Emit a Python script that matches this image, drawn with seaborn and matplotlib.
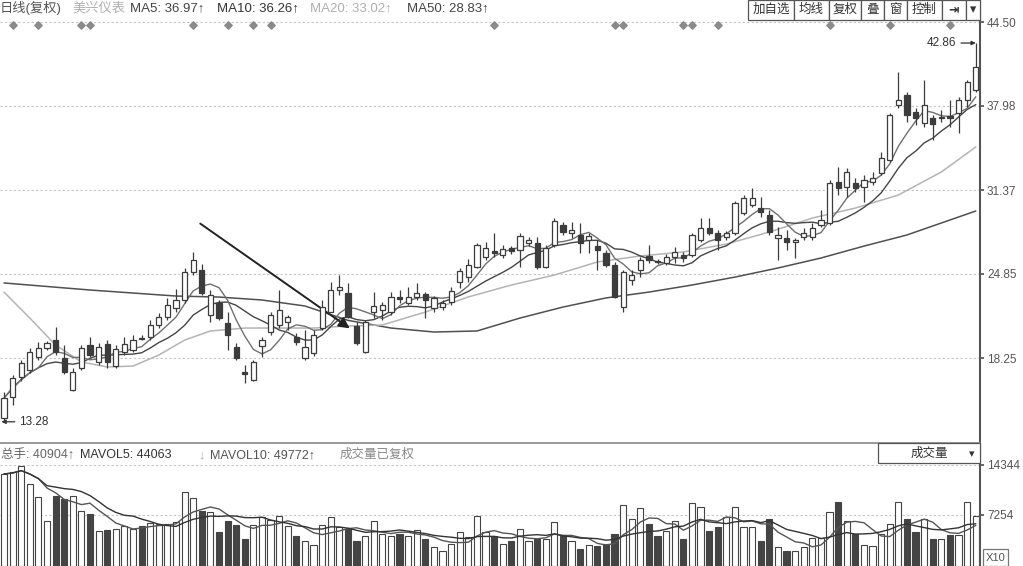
import numpy as np
import pandas as pd
import matplotlib
matplotlib.use("Agg")
import matplotlib.pyplot as plt
from matplotlib.patches import Rectangle
import seaborn as sns

sns.set_theme(style="white")
plt.rcParams['font.family'] = ['Liberation Sans', 'Noto Sans CJK SC', 'DejaVu Sans']

# daily candles
opens = [13.57, 15.21, 16.77, 17.32, 18.34, 19.04, 19.66, 18.26, 15.76, 17.48,
         19.27, 17.95, 19.35, 17.63, 18.73, 18.88, 19.86, 19.90, 20.84, 21.46,
         22.16, 22.79, 24.97, 25.13, 21.62, 22.55, 20.99, 19.12, 17.17, 16.54,
         19.20, 20.29, 20.84, 21.07, 19.90, 18.26, 18.65, 20.60, 21.85, 23.57,
         23.34, 20.76, 18.73, 21.85, 22.00, 21.85, 23.03, 22.55, 23.03, 23.26,
         22.16, 22.24, 22.63, 24.20, 24.58, 25.37, 26.15, 26.62, 26.30, 26.85,
         26.69, 27.24, 27.24, 25.37, 27.08, 28.65, 28.02, 27.87, 27.48, 27.00,
         26.46, 25.52, 22.24, 24.35, 25.13, 26.23, 25.83, 25.68, 26.15, 26.30,
         26.30, 27.48, 28.41, 28.02, 27.71, 28.02, 29.58, 30.21, 29.97, 29.43,
         27.63, 27.63, 27.32, 27.71, 27.71, 28.65, 28.80, 32.00, 31.61, 31.93,
         31.61, 32.00, 32.71, 33.72, 38.02, 38.80, 37.47, 36.61, 37.00, 37.00,
         37.16, 37.39, 38.41, 39.19]
highs = [15.60, 16.93, 18.10, 19.04, 19.50, 19.60, 20.70, 19.30, 17.50, 19.30,
         19.90, 19.40, 19.66, 19.30, 19.90, 20.05, 20.05, 21.20, 21.80, 22.95,
         23.65, 25.30, 26.54, 25.60, 23.60, 22.80, 21.85, 19.40, 17.70, 18.10,
         19.90, 21.85, 23.57, 21.60, 20.20, 20.45, 20.45, 22.80, 24.20, 24.74,
         24.10, 21.07, 21.20, 23.40, 22.63, 23.40, 23.57, 23.80, 24.10, 23.40,
         23.10, 22.80, 23.80, 25.29, 25.99, 27.24, 27.32, 28.02, 27.08, 27.00,
         28.02, 27.70, 27.71, 27.08, 29.19, 28.88, 28.88, 28.80, 28.02, 27.50,
         26.69, 25.76, 25.13, 25.13, 26.15, 27.08, 26.00, 26.38, 26.93, 26.54,
         28.02, 29.19, 29.19, 28.26, 28.18, 30.52, 30.99, 31.54, 30.83, 29.82,
         28.49, 28.26, 27.63, 28.41, 28.80, 29.82, 32.16, 33.18, 33.10, 32.32,
         32.55, 32.79, 34.35, 37.39, 40.60, 39.03, 37.78, 39.97, 37.24, 37.63,
         38.41, 38.64, 39.97, 42.86]
lows = [13.28, 14.59, 16.50, 17.10, 18.10, 18.90, 18.50, 17.00, 15.70, 17.30,
        18.30, 17.70, 17.48, 17.50, 18.50, 18.73, 19.66, 19.66, 20.60, 21.20,
        21.85, 22.55, 24.74, 23.20, 21.10, 21.20, 18.88, 18.10, 16.30, 16.50,
        18.33, 20.05, 20.60, 20.45, 19.27, 18.10, 18.40, 20.45, 21.85, 23.18,
        21.38, 19.27, 18.65, 21.40, 21.20, 21.62, 22.55, 22.40, 22.80, 21.38,
        21.85, 22.00, 22.40, 23.72, 24.20, 25.29, 25.91, 26.15, 26.07, 26.38,
        25.37, 27.00, 25.20, 25.29, 26.93, 27.87, 27.63, 26.46, 26.46, 25.13,
        25.37, 22.95, 21.85, 23.96, 24.58, 25.68, 25.60, 25.52, 25.68, 25.76,
        26.15, 27.32, 27.87, 26.69, 27.48, 27.87, 29.43, 30.05, 29.27, 27.87,
        25.91, 26.69, 26.07, 27.48, 27.48, 28.49, 28.65, 30.99, 30.83, 31.22,
        30.44, 31.77, 32.55, 33.57, 37.78, 36.69, 36.46, 36.30, 35.28, 36.69,
        36.30, 35.83, 37.86, 39.03]
closes = [15.13, 16.70, 17.87, 18.73, 19.04, 19.43, 18.73, 17.17, 17.17, 19.04,
          18.49, 19.12, 17.95, 18.96, 19.35, 19.66, 19.78, 20.84, 21.46, 22.40,
          22.79, 24.97, 25.90, 23.34, 23.18, 21.38, 20.05, 18.26, 17.00, 17.95,
          19.66, 21.62, 22.00, 21.46, 19.50, 19.12, 20.05, 22.24, 23.57, 23.80,
          21.46, 19.43, 21.07, 22.32, 22.40, 23.03, 22.87, 23.03, 23.34, 22.79,
          22.95, 22.55, 23.49, 25.05, 25.52, 27.08, 26.85, 26.46, 26.77, 26.62,
          27.79, 27.48, 25.37, 26.85, 28.96, 28.10, 28.26, 27.24, 27.79, 26.69,
          25.52, 23.03, 24.97, 24.74, 25.91, 25.91, 25.76, 26.15, 26.54, 26.07,
          27.87, 28.41, 28.02, 27.48, 28.02, 30.36, 30.75, 30.75, 29.66, 28.10,
          27.87, 27.32, 27.48, 28.02, 28.41, 29.04, 31.93, 31.54, 32.79, 31.54,
          32.16, 32.32, 33.88, 37.24, 38.41, 37.24, 37.00, 38.02, 36.53, 37.08,
          37.00, 38.41, 39.81, 40.99]
# volume in lots x10
volumes = [13050, 13330, 14180, 11630, 9780, 6380, 9930, 9500, 9930, 7800,
           7370, 4960, 5110, 5250, 5670, 5250, 5670, 6100, 5960, 5960,
           6240, 10490, 9640, 7800, 7660, 4820, 6380, 5810, 3830, 5810,
           6950, 6520, 7090, 5670, 4250, 3550, 2980, 5810, 6950, 5530,
           5250, 3550, 4250, 6380, 4540, 4250, 4540, 4250, 5110, 3830,
           2690, 2130, 3120, 4820, 4110, 7090, 4820, 4250, 3120, 3550,
           5250, 3550, 3830, 3830, 6240, 4250, 3550, 2410, 2980, 2840,
           3120, 4540, 8650, 6670, 8220, 5960, 4250, 4960, 6380, 3830,
           8930, 8370, 4960, 5530, 6950, 8370, 5530, 5530, 3550, 6670,
           2690, 2130, 2130, 2690, 3970, 3970, 7660, 9080, 6380, 4540,
           2980, 2840, 4540, 5960, 9080, 6670, 4820, 6670, 3830, 3830,
           4400, 4400, 9080, 7090]

ma20_days = [0, 3, 6, 9, 12, 15, 18, 21, 24, 28, 32, 36, 40, 44, 49, 54, 59,
             64, 69, 74, 79, 84, 89, 94, 99, 104, 109, 113]
ma20_vals = [23.41, 21.38, 19.27, 17.95, 17.56, 17.63, 18.49, 19.66, 20.37,
             20.60, 20.60, 20.60, 20.76, 20.84, 21.85, 23.03, 23.96, 24.74,
             25.76, 26.23, 26.54, 27.16, 28.10, 29.19, 29.97, 30.99, 32.79, 34.74]
ma50_days = [0, 10, 20, 25, 30, 35, 40, 45, 50, 55, 60, 65, 70, 75, 80, 85,
             90, 95, 100, 105, 110, 113]
ma50_vals = [24.12, 23.57, 23.10, 23.02, 22.79, 22.32, 21.20, 20.60, 20.29,
             20.37, 21.38, 22.24, 22.95, 23.41, 23.96, 24.58, 25.29, 26.07,
             27.00, 27.87, 29.04, 29.74]

signal_days = [1, 4, 9, 10, 22, 26, 29, 31, 57, 71, 72, 79, 80, 83, 96, 103, 110]

price_ticks = [44.50, 37.98, 31.37, 24.85, 18.25]
vol_ticks = [14344, 7254]
buttons = ["加自选", "均线", "复权", "叠", "窗", "控制", "⇥", "▾"]
button_edges = [748, 794, 829, 861, 884, 907, 942, 966, 980]

W, H = 1023, 566
DARK = '#3c3c3c'


def fx(x):
    return x / W


def fy(y):
    return 1 - y / H


df = pd.DataFrame({"day": np.arange(len(closes)), "open": opens, "high": highs,
                   "low": lows, "close": closes, "vol": volumes})
df["up"] = df["close"] >= df["open"]
df["ma5"] = df["close"].rolling(5, min_periods=1).mean()
df["ma10"] = df["close"].rolling(10, min_periods=1).mean()
df["mavol5"] = df["vol"].rolling(5, min_periods=1).mean()
df["mavol10"] = df["vol"].rolling(10, min_periods=1).mean()
df["bottom"] = df[["open", "close"]].min(axis=1)
df["body"] = (df["close"] - df["open"]).abs().clip(lower=0.08)

fig = plt.figure(figsize=(W / 100, H / 100), dpi=100)
ax = fig.add_axes([0, fy(442), fx(980), 442 / H])
axv = fig.add_axes([0, 0, fx(980), 123 / H])

xlim = (-0.465, 113.49)

# ---- price panel
for t in price_ticks:
    ax.axhline(t, color='#c4c4c4', lw=0.8, ls=(0, (2, 2)), zorder=1)

sns.lineplot(x=ma50_days, y=ma50_vals, ax=ax, color='#505050', lw=1.1, estimator=None, zorder=2)
sns.lineplot(x=ma20_days, y=ma20_vals, ax=ax, color='#b4b4b4', lw=1.1, estimator=None, zorder=2)
sns.lineplot(data=df, x="day", y="ma10", ax=ax, color='#454545', lw=1.0, estimator=None, zorder=2)
sns.lineplot(data=df, x="day", y="ma5", ax=ax, color='#707070', lw=1.0, estimator=None, zorder=2)

ax.vlines(df["day"], df["low"], df["high"], color=DARK, lw=0.9, zorder=3)
up = df[df["up"]]
dn = df[~df["up"]]
ax.bar(up["day"], up["body"], bottom=up["bottom"], width=0.6, facecolor='white',
       edgecolor=DARK, lw=0.9, zorder=4)
ax.bar(dn["day"], dn["body"], bottom=dn["bottom"], width=0.6, facecolor=DARK,
       edgecolor=DARK, lw=0.9, zorder=4)

ax.scatter(signal_days, [44.27] * len(signal_days), marker='D', s=14,
           color='#8a8a8a', zorder=5)

ax.annotate('', xy=(40.47, 20.45), xytext=(22.56, 28.88),
            arrowprops=dict(arrowstyle='-|>', lw=1.4, color='#222222', mutation_scale=16))
hi = df.loc[df["high"].idxmax()]
lo = df.loc[df["low"].idxmin()]
ax.annotate(f"{hi['high']:.2f}", xy=(hi["day"], hi["high"]), xytext=(-14, 0),
            textcoords='offset points', ha='right', va='center', fontsize=8.5, color='#333333',
            arrowprops=dict(arrowstyle='-|>', lw=0.9, color='#333333', mutation_scale=6, shrinkA=1, shrinkB=0))
ax.annotate(f"{lo['low']:.2f}", xy=(lo["day"] - 0.3, lo["low"]), xytext=(13, 0),
            textcoords='offset points', ha='left', va='center', fontsize=8.5, color='#333333',
            arrowprops=dict(arrowstyle='-|>', lw=0.9, color='#333333', mutation_scale=6, shrinkA=1, shrinkB=0))

ax.set_xlim(*xlim)
ax.set_ylim(11.70, 46.22)
ax.set_xticks([])
ax.yaxis.tick_right()
ax.set_yticks(price_ticks)
ax.set_yticklabels([f"{t:.2f}" for t in price_ticks])
ax.tick_params(axis='y', direction='out', length=3, color='#555555', labelsize=8.5,
               labelcolor='#555555', pad=2)
ax.set_xlabel('')
ax.set_ylabel('')
for s in ['left', 'top', 'bottom']:
    ax.spines[s].set_visible(False)
ax.spines['right'].set_color('#555555')
ax.spines['right'].set_linewidth(1.5)

# ---- volume panel
for t in vol_ticks:
    axv.axhline(t, color='#c4c4c4', lw=0.8, ls=(0, (2, 2)), zorder=1)
axv.bar(up["day"], up["vol"], width=0.72, facecolor='white', edgecolor='#444444', lw=0.8, zorder=2)
axv.bar(dn["day"], dn["vol"], width=0.72, facecolor='#444444', edgecolor='#444444', lw=0.8, zorder=2)
sns.lineplot(data=df, x="day", y="mavol5", ax=axv, color='#555555', lw=1.0, estimator=None, zorder=3)
sns.lineplot(data=df, x="day", y="mavol10", ax=axv, color='#333333', lw=1.0, estimator=None, zorder=3)
axv.set_xlim(*xlim)
axv.set_ylim(0, 17440)
axv.set_xticks([])
axv.yaxis.tick_right()
axv.set_yticks(vol_ticks)
axv.set_yticklabels([str(t) for t in vol_ticks])
axv.tick_params(axis='y', direction='out', length=3, color='#555555', labelsize=8.5,
                labelcolor='#555555', pad=2)
axv.set_xlabel('')
axv.set_ylabel('')
for s in ['left', 'bottom']:
    axv.spines[s].set_visible(False)
axv.spines['right'].set_color('#555555')
axv.spines['right'].set_linewidth(1.5)
axv.spines['top'].set_color('#888888')
axv.spines['top'].set_linewidth(1.2)

# ---- header texts
header = [(0, "日线(复权)", '#555555'), (72, "美兴仪表", '#b0b0b0'),
          (130, "MA5: 36.97↑", '#444444'), (217, "MA10: 36.26↑", '#333333'),
          (310, "MA20: 33.02↑", '#b0b0b0'), (407, "MA50: 28.83↑", '#444444')]
for x, s, c in header:
    fig.text(fx(x), fy(8), s, fontsize=9.5, color=c, ha='left', va='center')

vol_header = [(1, "总手: 40904↑", '#666666'), (80, "MAVOL5: 44063", '#333333'),
              (198, "↓", '#aaaaaa'), (210, "MAVOL10: 49772↑", '#555555'),
              (340, "成交量已复权", '#888888')]
for x, s, c in vol_header:
    fig.text(fx(x), fy(455), s, fontsize=9, color=c, ha='left', va='center')

# toolbar buttons
for i, label in enumerate(buttons):
    x0, x1 = button_edges[i], button_edges[i + 1]
    fig.add_artist(Rectangle((fx(x0), fy(20)), fx(x1 - x0), 20 / H, transform=fig.transFigure,
                             facecolor='white', edgecolor='#555555', lw=0.9, zorder=10))
    fam = ['DejaVu Sans'] if label in ("⇥", "▾") else None
    fig.text(fx((x0 + x1) / 2), fy(10), label, fontsize=9, color='#333333', ha='center',
             va='center', zorder=11, family=fam, weight='bold' if label == "⇥" else 'normal')

# indicator selector and scale box
fig.add_artist(Rectangle((fx(878), fy(463)), fx(102), 20 / H, transform=fig.transFigure,
                         facecolor='white', edgecolor='#555555', lw=0.9, zorder=10))
fig.text(fx(929), fy(454), "成交量", fontsize=9, color='#333333', ha='center', va='center', zorder=11)
fig.text(fx(972), fy(454), "▾", fontsize=8, color='#333333', ha='center', va='center',
         zorder=11, family=['DejaVu Sans'])
fig.add_artist(Rectangle((fx(983), fy(566)), fx(25), 17 / H, transform=fig.transFigure,
                         facecolor='white', edgecolor='#777777', lw=0.9, zorder=10))
fig.text(fx(995.5), fy(558), "X10", fontsize=8, color='#555555', ha='center', va='center', zorder=11)

fig.savefig("out.png", dpi=100)
